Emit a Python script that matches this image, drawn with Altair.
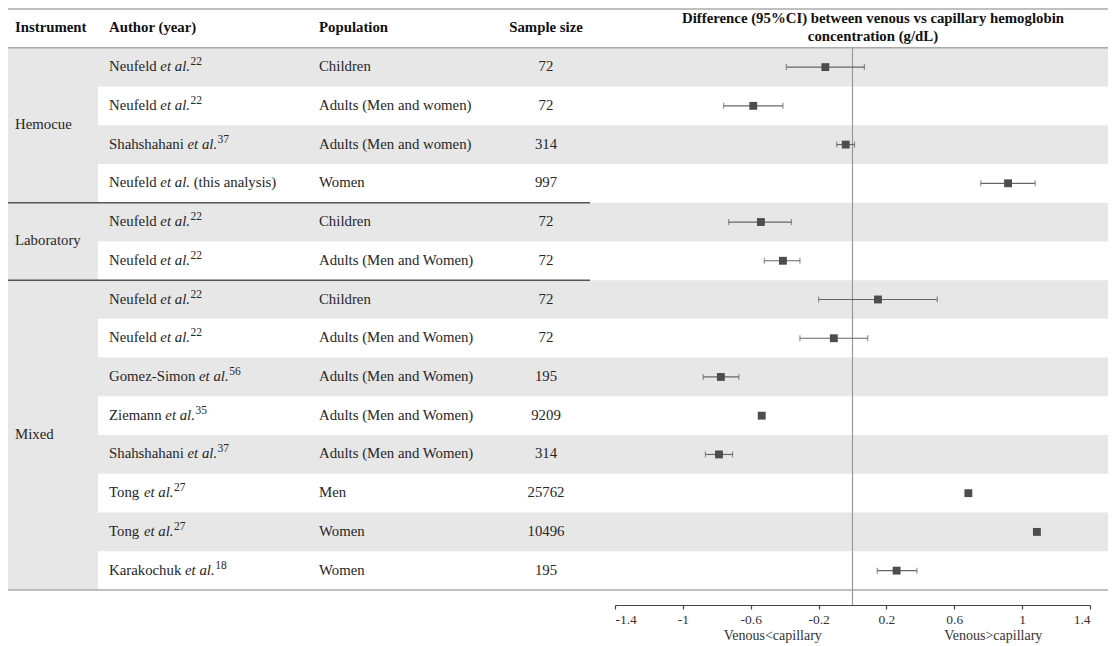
import altair as alt
import pandas as pd

# ---------------- data ----------------
instrument = ["Hemocue"] * 4 + ["Laboratory"] * 2 + ["Mixed"] * 8
author = ["Neufeld", "Neufeld", "Shahshahani", "Neufeld", "Neufeld", "Neufeld",
          "Neufeld", "Neufeld", "Gomez-Simon", "Ziemann", "Shahshahani", "Tong",
          "Tong", "Karakochuk"]
ref_sup = ["22", "22", "37", "", "22", "22", "22", "22", "56", "35", "37", "27", "27", "18"]
suffix = ["", "", "", "(this analysis)", "", "", "", "", "", "", "", "", "", ""]
population = ["Children", "Adults (Men and women)", "Adults (Men and women)", "Women",
              "Children", "Adults (Men and Women)", "Children", "Adults (Men and Women)",
              "Adults (Men and Women)", "Adults (Men and Women)", "Adults (Men and Women)",
              "Men", "Women", "Women"]
sample_size = [72, 72, 314, 997, 72, 72, 72, 72, 195, 9209, 314, 25762, 10496, 195]
estimate = [-0.16, -0.585, -0.04, 0.917, -0.54, -0.41, 0.15, -0.11, -0.776, -0.535,
            -0.787, 0.683, 1.087, 0.26]
ci_low = [-0.39, -0.76, -0.093, 0.756, -0.73, -0.52, -0.20, -0.31, -0.88, None,
          -0.867, None, None, 0.146]
ci_high = [0.07, -0.41, 0.012, 1.077, -0.36, -0.31, 0.50, 0.09, -0.67, None,
           -0.707, None, None, 0.38]
x_ticks = [-1.4, -1, -0.6, -0.2, 0.2, 0.6, 1, 1.4]
side_labels = ["Venous<capillary", "Venous>capillary"]
side_pos = [-0.47, 0.83]
title_lines = ["Difference (95%CI) between venous vs capillary hemoglobin",
               "concentration (g/dL)"]

# ---------------- tables ----------------
n = len(author)
df = pd.DataFrame(dict(instrument=instrument, author=author, sup=ref_sup, suffix=suffix,
                       population=population, sample=sample_size, est=estimate,
                       lo=ci_low, hi=ci_high))
df["row"] = range(1, n + 1)
df["row_end"] = df["row"] + 1
df["mid"] = df["row"] + 0.5

grp = (df.groupby("instrument", sort=False)
         .agg(start=("row", "min"), end=("row_end", "max")).reset_index())
grp["mid"] = (grp["start"] + grp["end"]) / 2

lines_df = pd.DataFrame({"y": [0, 1, n + 1]})
zero_df = pd.DataFrame({"x": [0.0], "y": [1]})
side_df = pd.DataFrame({"label": side_labels, "pos": side_pos})
head_df = pd.DataFrame({"y": [0.5]})

# ---------------- style ----------------
W, H = 1100, 597
FONT = "Liberation Serif"
FS = 14.8
TXT = "#262626"
GRAY = "#e7e7e7"

# Times metrics (per 1000 em) for placing mixed-style text pieces
TR = {"N": 722, "e": 444, "u": 500, "f": 333, "l": 278, "d": 500, "S": 556, "h": 500,
      "a": 444, "s": 389, "i": 278, "G": 722, "o": 500, "m": 778, "-": 333, "Z": 611,
      "n": 500, "T": 611, "g": 500, "K": 722, "r": 333, "k": 500, "c": 444, "z": 444,
      " ": 250}
TI = {"e": 444, "t": 278, " ": 250, "a": 500, "l": 278, ".": 250}


def w_reg(s):
    return sum(TR.get(c, 500) for c in s) * FS / 1000


def w_it(s):
    return sum(TI.get(c, 500) for c in s) * FS / 1000


yscale = alt.Scale(domain=[0, n + 1], range=[1, 582])
xscale = alt.Scale(domain=[-1.4, 1.4], range=[607, 1082], nice=False, zero=False)
xaxis = alt.Axis(values=x_ticks, labelExpr="'' + datum.value", title=None, grid=False,
                 domainColor="#444444", domainWidth=1.2, tickColor="#444444",
                 tickWidth=1.2, tickSize=4, labelFont=FONT, labelFontSize=13.5,
                 labelColor="#333333", labelPadding=3)


def Y(f):
    return alt.Y(f, scale=yscale, axis=None)


def X(f):
    return alt.X(f, scale=xscale, axis=xaxis)


base = alt.Chart(df)

bands = base.transform_filter("datum.row % 2 == 1").mark_rect(color=GRAY).encode(
    x=alt.value(0), x2=alt.value(W), y=Y("row:Q"), y2="row_end")
inst_col = alt.Chart(grp).mark_rect(color=GRAY).encode(
    x=alt.value(0), x2=alt.value(90), y=Y("start:Q"), y2="end")
hlines = alt.Chart(lines_df).mark_rule(color="#aaaaaa", strokeWidth=1.5).encode(
    x=alt.value(0), x2=alt.value(W), y=Y("y:Q"))
seps = alt.Chart(grp).transform_filter("datum.start > 1").mark_rule(
    color="#555555", strokeWidth=1.5).encode(
    x=alt.value(0), x2=alt.value(582), y=Y("start:Q"))
zero = alt.Chart(zero_df).mark_rule(color="#999999", strokeWidth=1.2).encode(
    x=X("x:Q"), y=Y("y:Q"), y2=alt.value(H))

err = base.transform_filter("datum.lo != null").mark_rule(
    color="#666666", strokeWidth=1.2).encode(x=X("lo:Q"), x2="hi", y=Y("mid:Q"))
caps = base.transform_fold(["lo", "hi"], as_=["end", "xv"]).transform_filter(
    "datum.xv != null").mark_tick(orient="vertical", size=6, thickness=1.2,
                                  color="#666666").encode(x=X("xv:Q"), y=Y("mid:Q"))
pts = base.mark_square(size=62, color="#4d4d4d", opacity=1).encode(
    x=X("est:Q"), y=Y("mid:Q"))

txt = dict(font=FONT, fontSize=FS, color=TXT, baseline="middle")
inst_txt = alt.Chart(grp).mark_text(align="left", **txt).encode(
    x=alt.value(7), y=Y("mid:Q"), text="instrument:N")
name_txt = base.mark_text(align="left", **txt).encode(
    x=alt.value(101), y=Y("mid:Q"), text="author:N")
pop_txt = base.mark_text(align="left", **txt).encode(
    x=alt.value(311), y=Y("mid:Q"), text="population:N")
n_txt = base.mark_text(align="center", **txt).encode(
    x=alt.value(538), y=Y("mid:Q"), text="sample:N")

layers = [bands, inst_col, hlines, seps, zero, err, caps, pts,
          inst_txt, name_txt, pop_txt, n_txt]

sp = w_reg(" ")
etal_w = w_it("et al.")
for nm in dict.fromkeys(author):
    wn = w_reg(nm)
    sub = base.transform_filter(alt.datum.author == nm)
    layers.append(sub.mark_text(align="left", fontStyle="italic", dx=wn + sp, **txt).encode(
        x=alt.value(101), y=Y("mid:Q"), text=alt.value("et al.")))
    layers.append(sub.transform_filter("datum.sup != ''").mark_text(
        align="left", font=FONT, fontSize=11.5, color=TXT, baseline="middle",
        dx=wn + sp + etal_w + 0.5, dy=-5).encode(
        x=alt.value(101), y=Y("mid:Q"), text="sup:N"))
    layers.append(sub.transform_filter("datum.suffix != ''").mark_text(
        align="left", dx=wn + sp + etal_w + sp, **txt).encode(
        x=alt.value(101), y=Y("mid:Q"), text="suffix:N"))

hd = dict(font=FONT, fontSize=FS, fontWeight="bold", color="#111111", baseline="middle")
head = alt.Chart(head_df)
for label, xpos, al in [("Instrument", 7, "left"), ("Author (year)", 101, "left"),
                        ("Population", 311, "left"), ("Sample size", 538, "center")]:
    layers.append(head.mark_text(align=al, **hd).encode(
        x=alt.value(xpos), y=Y("y:Q"), text=alt.value(label)))
layers.append(head.mark_text(align="center", lineHeight=18, dy=-9, **hd).encode(
    x=alt.value(865), y=Y("y:Q"), text=alt.value(title_lines)))

layers.append(alt.Chart(side_df).mark_text(align="center", font=FONT, fontSize=14,
                                            color="#333333", baseline="middle").encode(
    x=X("pos:Q"), y=alt.value(628), text="label:N"))

chart = alt.layer(*layers).properties(
    width=W, height=H,
    autosize=alt.AutoSizeParams(type="none"),
    padding={"left": 0, "top": 0, "right": 0, "bottom": 40},
).configure_view(stroke=None)

chart.save("out.html", embed_options={"renderer": "svg", "actions": False})
